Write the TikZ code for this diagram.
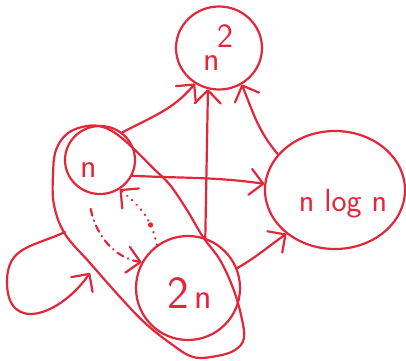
\documentclass[tikz,border=0pt]{standalone}
\usetikzlibrary{arrows.meta,shapes.geometric}
\definecolor{ink}{HTML}{E3263A}
\begin{document}
\begin{tikzpicture}[x=1pt,y=1pt,
  pen/.style={draw=ink, line width=2.2pt, line cap=round, line join=round},
  blob/.style={pen, ellipse, inner sep=0pt},
  lbl/.style={text=ink, font=\sffamily\fontsize{34}{34}\selectfont, inner sep=0pt},
  arr/.style={pen, -{Straight Barb[length=13pt,width=26pt,round]}},
  dashdot/.style={arr, dash pattern=on 7pt off 5pt on 0.5pt off 5pt},
  dotty/.style={arr, dash pattern=on 0.5pt off 6pt}]
\useasboundingbox (0,0) rectangle (406,360);

% complexity classes
\node[blob, minimum width=86pt,  minimum height=83pt]  (sq)  at (219,312) {};
\node[blob, minimum width=70pt,  minimum height=68pt]  (lin) at (100,200) {};
\node[blob, minimum width=104pt, minimum height=104pt] (dbl) at (188,72)  {};
\node[blob, minimum width=140pt, minimum height=118pt] (nlg) at (335,170) {};

% labels
\node[lbl, anchor=base] (lin-t) at (89,183) {n};
\node[lbl, anchor=base] (sq-n)  at (212,290) {n};
\node[lbl, anchor=base] (sq-e)  at (225,313) {2};
\node[lbl, anchor=base] (dbl-t) at (190,52)
  {{\fontsize{46}{46}\selectfont 2}\,{\fontsize{36}{36}\selectfont n}};
\node[lbl, anchor=base, font=\sffamily\fontsize{32}{32}\selectfont] (nlg-t) at (343,149) {n log n};

% group boundary around n and 2n
\draw[pen] plot[smooth cycle, tension=0.6] coordinates {
  (56,210) (68,227) (87,234) (103,233) (118,225) (135,210) (153,192)
  (170,175) (187,150) (203,123) (220,100) (233,72) (241,45) (244,22)
  (235,10) (217,4) (193,3) (170,17) (145,37) (120,63) (90,97)
  (65,126) (54,155) (53,185)};
\coordinate (grpA) at (65,128);
\coordinate (grpW) at (7,78);
\coordinate (grpB) at (90,87);

% self loop of the group
\draw[arr] (grpA) to[out=205,in=90,looseness=1.2] (grpW)
                  to[out=-90,in=235,looseness=1.6] (grpB);

% edges
\draw[arr] (lin.51) to[out=28,in=230] (sq.236);
\draw[arr] (dbl.71) -- (sq.255);
\draw[arr] (nlg.148) to[out=130,in=-68] (sq.302);
\draw[arr] (lin.-26) to[out=-3,in=172] (nlg.175);
\draw[arr] (dbl.22) to[out=30,in=215] (nlg.222);

% equivalence edges between n and 2n
\draw[dashdot, shorten <=16pt] (lin.250) to[out=-80,in=170] (dbl.151);
\draw[dotty] (dbl.126) to[out=100,in=-40] coordinate[pos=0.3] (dm) (lin.-56);
\fill[ink] (dm) circle (2.6pt);
\end{tikzpicture}
\end{document}
